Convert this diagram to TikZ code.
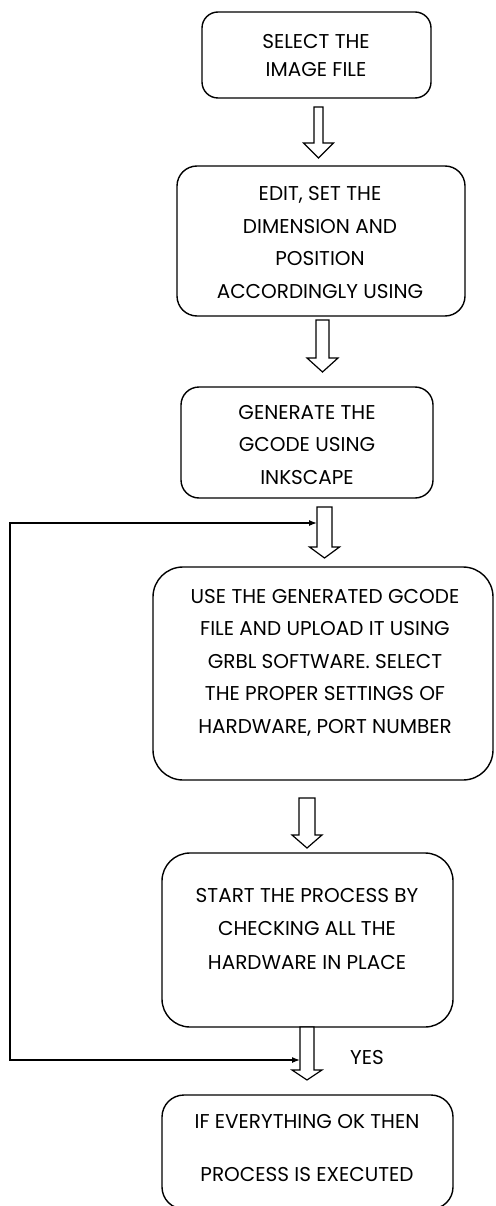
\documentclass[tikz,border=0pt]{standalone}
\usepackage{fontspec}
\setmainfont{Poppins}
\usetikzlibrary{arrows.meta}
\tikzset{
  box/.style={draw, line width=1.4pt, rounded corners=#1, inner sep=0pt},
  box/.default=16pt,
  txt/.style={align=center, font=\fontsize{20}{32.5}\selectfont, inner sep=0pt},
  barrow/.style={draw, line width=1.2pt, fill=white, line join=miter},
  fb/.style={line width=1.3pt, {Latex[length=8pt,width=6pt]}-{Latex[length=8pt,width=6pt]}}
}
\newcommand{\blockarrow}[6]{% cx, top, tip, shaft half, head half, head base
  \draw[barrow] (#1-#4,#2) -- (#1+#4,#2) -- (#1+#4,#6) -- (#1+#5,#6) -- (#1,#3)
    -- (#1-#5,#6) -- (#1-#4,#6) -- cycle;}
\begin{document}
\begin{tikzpicture}[x=1pt,y=-1pt]
\useasboundingbox (0,0) rectangle (495,1206);
% boxes
\node[box=16pt, minimum width=229pt, minimum height=86pt] (b1) at (316.5,55) {};
\node[box=20pt, minimum width=288pt, minimum height=150pt] (b2) at (321,241) {};
\node[box=18pt, minimum width=252pt, minimum height=111pt] (b3) at (307,442.5) {};
\node[box=30pt, minimum width=340pt, minimum height=213pt] (b4) at (323,673.5) {};
\node[box=28pt, minimum width=291pt, minimum height=174pt] (b5) at (307.5,940) {};
\node[box=22pt, minimum width=291pt, minimum height=114pt] (b6) at (307.5,1152) {};
% texts
\node[txt] (t1) at (316,56) {SELECT THE\\[-4.5pt]IMAGE FILE};
\node[txt] (t2) at (320,242.5) {EDIT, SET THE\\DIMENSION AND\\POSITION\\ACCORDINGLY USING};
\node[txt] (t3) at (307,445) {GENERATE THE\\GCODE USING\\INKSCAPE};
\node[txt] (t4) at (325,662.5) {USE THE GENERATED GCODE\\FILE AND UPLOAD IT USING\\GRBL SOFTWARE. SELECT\\THE PROPER SETTINGS OF\\HARDWARE, PORT NUMBER};
\node[txt] (t5) at (307,928.5) {START THE PROCESS BY\\[1pt]CHECKING ALL THE\\[1pt]HARDWARE IN PLACE};
\node[txt] (t6) at (307,1148.5) {IF EVERYTHING OK THEN\\[20.5pt]PROCESS IS EXECUTED};
\node[txt] (yes) at (367,1057) {YES};
% block arrows
\blockarrow{318.5}{107}{158}{4.5}{15}{143}
\blockarrow{322.5}{320}{372}{6.5}{15.5}{358}
\blockarrow{324.5}{507}{558}{7.5}{15}{547}
\blockarrow{307}{798}{848}{8}{15}{835}
\blockarrow{307}{1027}{1080}{7}{15}{1070}
% feedback loop
\coordinate (fbtop) at (317,523);
\coordinate (fbbot) at (300,1060);
\coordinate (c1) at (10,523);
\coordinate (c2) at (10,1060);
\draw[fb] (fbtop) -- (c1) -- (c2) -- (fbbot);
\end{tikzpicture}
\end{document}
